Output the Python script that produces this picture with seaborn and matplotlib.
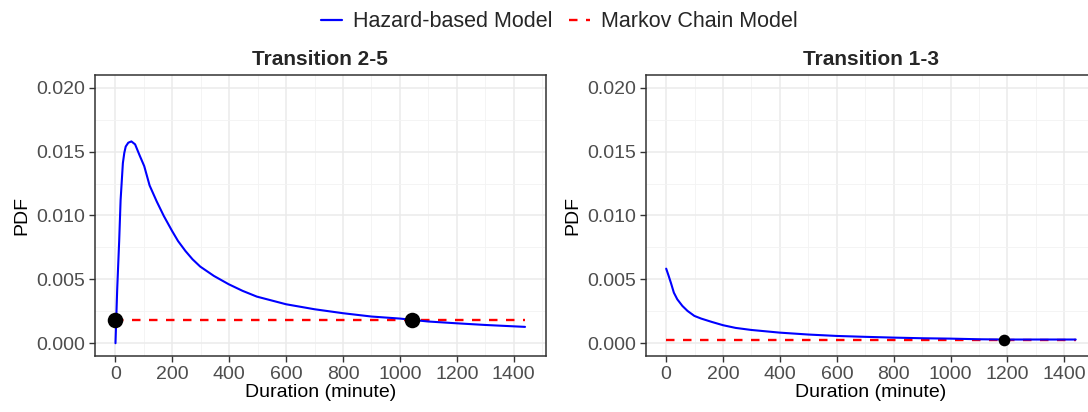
import matplotlib
matplotlib.use("Agg")
import matplotlib.pyplot as plt
from matplotlib.lines import Line2D
from matplotlib.ticker import MultipleLocator
import seaborn as sns
import pandas as pd

# ---------------- data ----------------
dur_25 = [0, 6, 13, 18, 26, 31, 36, 45, 56, 69, 85, 101, 120, 145, 170, 199, 220,
          246, 271, 298, 346, 398, 447, 497, 600, 700, 800, 900, 1000, 1100, 1200,
          1300, 1440]
pdf_25 = [0.0000, 0.0042, 0.0080, 0.0112, 0.0141, 0.0149, 0.0154, 0.0157, 0.0158,
          0.01557, 0.0147, 0.01387, 0.01235, 0.0111, 0.00996, 0.00879, 0.0080,
          0.00722, 0.00657, 0.0060, 0.00527, 0.00462, 0.0041, 0.00365, 0.00305,
          0.00266, 0.00235, 0.00209, 0.00193, 0.0017, 0.00156, 0.00143, 0.00128]
markov_25 = 0.00183
dots_25_x = [0, 1042]

dur_13 = [0, 8, 17, 27, 39, 57, 75, 99, 123, 160, 200, 244, 299, 399, 500, 600,
          700, 800, 900, 1000, 1100, 1200, 1440]
pdf_13 = [0.00584, 0.00532, 0.0047, 0.00396, 0.00344, 0.00292, 0.00253, 0.00214,
          0.00193, 0.00167, 0.00141, 0.0012, 0.00104, 0.00083, 0.00068, 0.00057,
          0.00050, 0.00044, 0.00039, 0.00036, 0.00031, 0.00029, 0.00029]
markov_13 = 0.00026
dots_13_x = [1187]

titles = ["Transition 2-5", "Transition 1-3"]
legend_labels = ["Hazard-based Model", "Markov Chain Model"]
x_ticks = [0, 200, 400, 600, 800, 1000, 1200, 1400]
y_ticks = [0.000, 0.005, 0.010, 0.015, 0.020]

# ---------------- style ----------------
sns.set_theme(style="white")
plt.rcParams['font.family'] = ['Liberation Sans', 'DejaVu Sans']

W, H = 1088, 412
fig = plt.figure(figsize=(W / 100, H / 100), dpi=100)

def px_axes(x0, x1, y0, y1):
    return fig.add_axes([x0 / W, 1 - y1 / H, (x1 - x0) / W, (y1 - y0) / H])

ax1 = px_axes(95, 545.5, 75, 356)
ax2 = px_axes(645.7, 1096.2, 75, 356)

DASH = (0, (3.6, 3.6))

panels = [
    (ax1, dur_25, pdf_25, markov_25, dots_25_x, 10),
    (ax2, dur_13, pdf_13, markov_13, dots_13_x, 7.5),
]

for i, (ax, dur, pdf, mk, dots, msize) in enumerate(panels):
    ax.set_facecolor("white")
    xmin, xmax = 0, 1440
    ax.set_xlim(xmin - 0.05 * (xmax - xmin), xmax + 0.05 * (xmax - xmin))
    ax.set_ylim(-0.001, 0.021)
    ax.xaxis.set_major_locator(MultipleLocator(200))
    ax.xaxis.set_minor_locator(MultipleLocator(100))
    ax.yaxis.set_major_locator(MultipleLocator(0.005))
    ax.yaxis.set_minor_locator(MultipleLocator(0.0025))
    ax.grid(True, which="major", color="#EBEBEB", linewidth=1.1)
    ax.grid(True, which="minor", color="#F3F3F3", linewidth=0.6)
    ax.set_axisbelow(True)

    mk_df = pd.DataFrame({"x": [0, 1440], "y": [mk, mk]})
    sns.lineplot(data=mk_df, x="x", y="y", ax=ax, color="#FF0000",
                 linewidth=1.7, linestyle=DASH, zorder=3)
    df = pd.DataFrame({"x": dur, "y": pdf})
    sns.lineplot(data=df, x="x", y="y", ax=ax, color="#0000FF",
                 linewidth=1.5, zorder=4, estimator=None, sort=False)
    dot_df = pd.DataFrame({"x": dots, "y": [mk] * len(dots)})
    sns.scatterplot(data=dot_df, x="x", y="y", ax=ax, color="black",
                    s=msize ** 2 * 1.25, edgecolor="black", linewidth=0, zorder=5)

    ax.set_xticks(x_ticks)
    ax.set_yticks(y_ticks)
    ax.set_yticklabels([f"{v:.3f}" for v in y_ticks])
    ax.tick_params(axis="both", which="major", labelsize=14, labelcolor="#4D4D4D",
                   color="#333333", length=4, width=1, direction="out",
                   left=True, bottom=True, pad=3)
    ax.tick_params(which="minor", length=0)
    for sp in ax.spines.values():
        sp.set_visible(True)
        sp.set_color("#333333")
        sp.set_linewidth(1.1)
    ax.set_xlabel("Duration (minute)", fontsize=14, color="black", labelpad=1)
    ax.set_ylabel("PDF", fontsize=14, color="black", labelpad=4)
    ax.set_title(titles[i], fontsize=15, fontweight="bold", pad=7)

handles = [
    Line2D([], [], color="#0000FF", linewidth=1.6),
    Line2D([], [], color="#FF0000", linewidth=1.7, linestyle=DASH),
]
fig.legend(handles, legend_labels, loc="upper center", bbox_to_anchor=(0.514, 1.02),
           ncol=2, frameon=False, fontsize=15.5, handlelength=1.0,
           columnspacing=0.75, handletextpad=0.5)

fig.savefig("out.png", dpi=100, facecolor="white")
